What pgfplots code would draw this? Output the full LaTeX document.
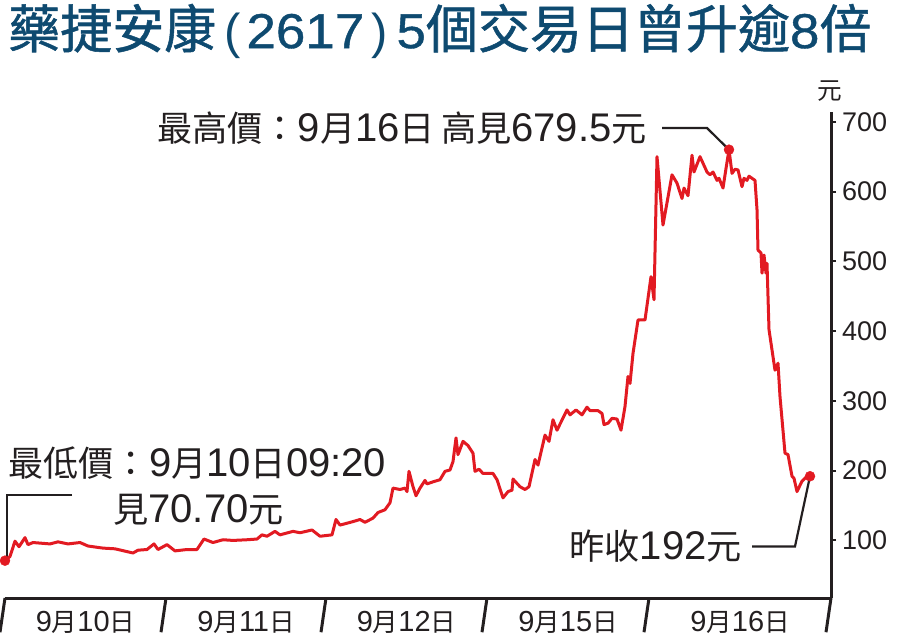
\documentclass[border=0pt]{standalone}
\usepackage{fontspec}
\usepackage{graphicx}
\usepackage{pgfplots}
\pgfplotsset{compat=1.18}
\setmainfont{Liberation Sans}
\newfontfamily\cjk{Noto Sans CJK TC}[Scale=0.88]
\newfontfamily\cjkt{Noto Sans CJK TC}[FakeBold=1]
\newfontfamily\tlat{Liberation Sans}[FakeBold=0.8]
\definecolor{pricered}{RGB}{226,26,34}
\definecolor{titleblue}{RGB}{14,74,112}
\definecolor{ink}{RGB}{35,31,32}
\newcommand\cj[1]{{\cjk #1}}
\newcommand\lbl{\fontsize{40}{40}\selectfont}
\newcommand\td[1]{\scalebox{1.08}[1]{\tlat\fontsize{49}{49}\selectfont #1}}
\newcommand\tp[1]{{\fontsize{49}{49}\selectfont #1}}
\newcommand\tc[1]{{\cjkt\fontsize{52}{52}\selectfont #1}}

% price path, x = position along the 5 sessions (axis px), y = HKD
\pgfplotstableread{
x y
5 71
10 77
15 99
19 91
25 104
28 94
33 97
50 95
58 98
68 95
80 97
88 92
103 89
115 88
133 82
138 86
147 87
154 95
158 87
167 94
175 85
187 87
197 87
204 102
213 97
223 101
233 100
247 101
257 102
262 108
267 106
275 113
280 108
293 113
300 111
312 115
320 106
332 108
336 130
340 122
353 127
360 130
365 126
373 132
378 140
385 144
390 154
393 175
400 173
405 175
407 170
409 199
413 177
416 164
420 175
425 186
427 181
433 184
440 187
445 199
450 201
453 213
456 247
458 223
463 242
468 236
473 225
475 199
479 202
483 196
493 196
497 187
503 161
508 170
512 172
513 188
520 177
525 173
529 177
535 216
538 208
545 251
549 242
553 273
557 258
567 287
570 280
576 287
582 280
587 291
590 286
598 286
602 282
604 266
608 268
612 275
617 274
621 258
625 292
628 335
630 325
633 368
638 416
645 416
651 478
654 445
657 650
663 552
672 624
677 612
682 590
684 605
688 594
692 652
694 628
700 650
707 628
710 624
713 628
717 616
719 619
723 605
726 633
729 660
732 626
735 632
738 631
742 607
744 619
747 616
749 622
755 616
757 574
758 516
761 512
762 483
764 509
766 483
767 497
769 402
772 373
775 344
778 354
780 306
785 225
788 223
792 192
794 189
797 170
802 185
807 192
810 192
}\price

\begin{document}
\begin{tikzpicture}
\path[use as bounding box] (-5pt,-40pt) rectangle (902pt,598pt);
\begin{axis}[
    at={(0,0)}, anchor=south west,
    width=826pt, height=486pt, scale only axis,
    xmin=5, xmax=831, ymin=17.5, ymax=714,
    clip=false,
    axis x line*=bottom, axis y line*=right,
    x axis line style={-, line width=3pt, ink},
    y axis line style={-, line width=3pt, ink},
    xtick={85.5,246,406.5,568,740},
    xticklabels={9\cj{月}10\cj{日},9\cj{月}11\cj{日},9\cj{月}12\cj{日},9\cj{月}15\cj{日},9\cj{月}16\cj{日}},
    major x tick style={draw=none},
    xticklabel style={anchor=base, inner sep=0pt, yshift=-33.7pt, font=\fontsize{29}{29}\selectfont, text=ink},
    ytick={100,200,...,700},
    ytick align=outside, xtick align=inside,
    major tick length=5pt,
    major y tick style={line width=2pt, ink},
    yticklabel style={anchor=west, inner sep=0pt, xshift=6pt, font=\fontsize{27}{27}\selectfont, text=ink},
    /pgf/number format/assume math mode=true,
]
\addplot[pricered, line width=3pt, line join=round] table {\price};
\addplot[only marks, mark=*, mark size=5pt, pricered] coordinates {(5,71) (729,660) (810,192)};

% day boundaries below the time axis
\pgfplotsinvokeforeach{5,166,326,487,649,831}{
  \draw[line width=3pt, ink] (axis cs:#1,17.5) -- ++(0,-22pt);
}

% callouts
\draw[line width=2.2pt, ink] (axis cs:662,691) -- (axis cs:707,691) -- (axis cs:729,660);
\node[anchor=base east, inner sep=0pt, font=\lbl, text=ink] at (axis cs:647,671.7)
  {\cj{最高價：}9\cj{月}16\cj{日}\hspace{6pt}\cj{高見}679.5\cj{元}};

\draw[line width=2.2pt, ink] (axis cs:72,165.4) -- (axis cs:7,165.4) -- (axis cs:7,71);
\node[anchor=base west, inner sep=0pt, font=\lbl, text=ink] at (axis cs:8,191.9)
  {\cj{最低價：}9\cj{月}10\cj{日}09:20};
\node[anchor=base west, inner sep=0pt, font=\lbl, text=ink] at (axis cs:113,126.1)
  {\cj{見}70.70\cj{元}};

\draw[line width=2.2pt, ink] (axis cs:752,91.4) -- (axis cs:795,91.4) -- (axis cs:810,192);
\node[anchor=base east, inner sep=0pt, font=\lbl, text=ink] at (axis cs:742,72.4)
  {\cj{昨收}192\cj{元}};

\node[inner sep=0pt, font=\fontsize{28}{28}\selectfont, text=ink] at (axis cs:830,744) {\cj{元}};

% title
\node[anchor=base west, inner sep=0pt, text=titleblue] at (axis cs:8,805.6)
  {\tc{藥捷安康}\hspace{8pt}\tp{(}\hspace{6pt}\td{2617}\hspace{7pt}\tp{)}\hspace{9pt}\td{5}\tc{個交易日曾升逾}\td{8}\tc{倍}};
\end{axis}
\end{tikzpicture}
\end{document}
